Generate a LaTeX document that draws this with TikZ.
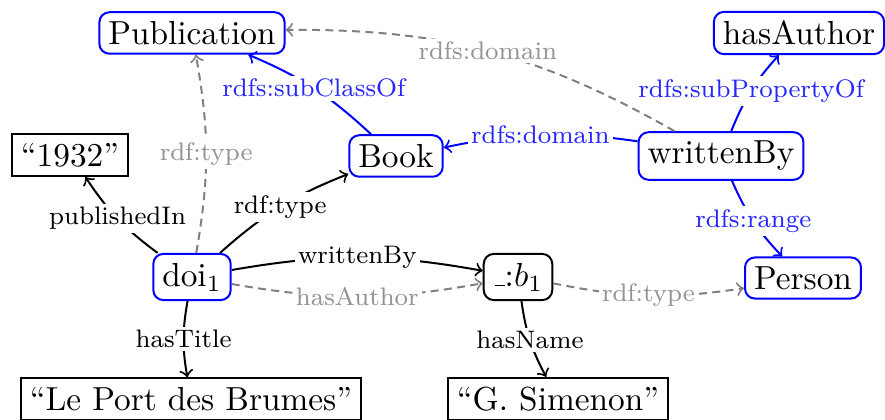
\documentclass[tikz,border=0pt]{standalone}
\newcommand{\blankmark}{\leavevmode\kern.06em\vbox{\hrule width .3em}}
\begin{document}
\begin{tikzpicture}[x=0.3pt,y=-0.3pt,
  cls/.style={draw=blue, semithick, rounded corners=3pt, inner sep=2.7pt,
    font=\fontsize{10}{12}\selectfont},
  blank/.style={cls, draw=black},
  lit/.style={draw=black, semithick, inner sep=2.7pt,
    font=\fontsize{10}{12}\selectfont},
  link/.style={->, semithick},
  schema/.style={link, blue},
  inferred/.style={link, gray, dash pattern=on 2.4pt off 1.6pt},
  lbl/.style={fill=white, inner sep=1pt, font=\fontsize{7.6}{9}\selectfont, text=black},
  slbl/.style={lbl, text=blue!85},
  ilbl/.style={lbl, text=gray!85}
]
\useasboundingbox (0,0) rectangle (885,420);

% schema level
\node[cls] (pub) at (192,33) {Publication};
\node[cls] (ha) at (799,33) {hasAuthor};
\node[cls] (book) at (396,156) {Book};
\node[cls] (wb) at (721,156) {writtenBy};
\node[cls] (person) at (803,278) {Person};

% instance level
\node[lit] (yr) at (70,155) {``1932''};
\node[cls] (doi) at (192,277) {doi$_1$};
\node[blank] (b1) at (518,277) {\blankmark:$b_1$};
\node[lit] (title) at (191,399) {``Le Port des Brumes''};
\node[lit] (name) at (558,399) {``G. Simenon''};

% schema edges
\draw[schema] (book) to[bend right=10] node[slbl] {rdfs:subClassOf} (pub);
\draw[inferred] (wb) to[bend right=15] node[ilbl] {rdfs:domain} (pub);
\draw[schema] (wb) to[bend left=10] node[slbl] {rdfs:subPropertyOf} (ha);
\draw[schema] (wb) to[bend right=10] node[slbl] {rdfs:domain} (book);
\draw[schema] (wb) to[bend right=10] node[slbl] {rdfs:range} (person);

% instance edges
\draw[link] (doi) to[bend left=10] node[lbl] {publishedIn} (yr);
\draw[inferred] (doi) to[bend right=10] node[ilbl] {rdf:type} (pub);
\draw[link] (doi) to[bend left=10] node[lbl] {rdf:type} (book);
\draw[link] (doi) to[bend left=10] node[lbl] {writtenBy} (b1);
\draw[inferred] (doi) to[bend right=10] node[ilbl] {hasAuthor} (b1);
\draw[inferred] (b1) to[bend right=10] node[ilbl] {rdf:type} (person);
\draw[link] (doi) to[bend right=10] node[lbl] {hasTitle} (title);
\draw[link] (b1) to[bend right=10] node[lbl] {hasName} (name);
\end{tikzpicture}
\end{document}
